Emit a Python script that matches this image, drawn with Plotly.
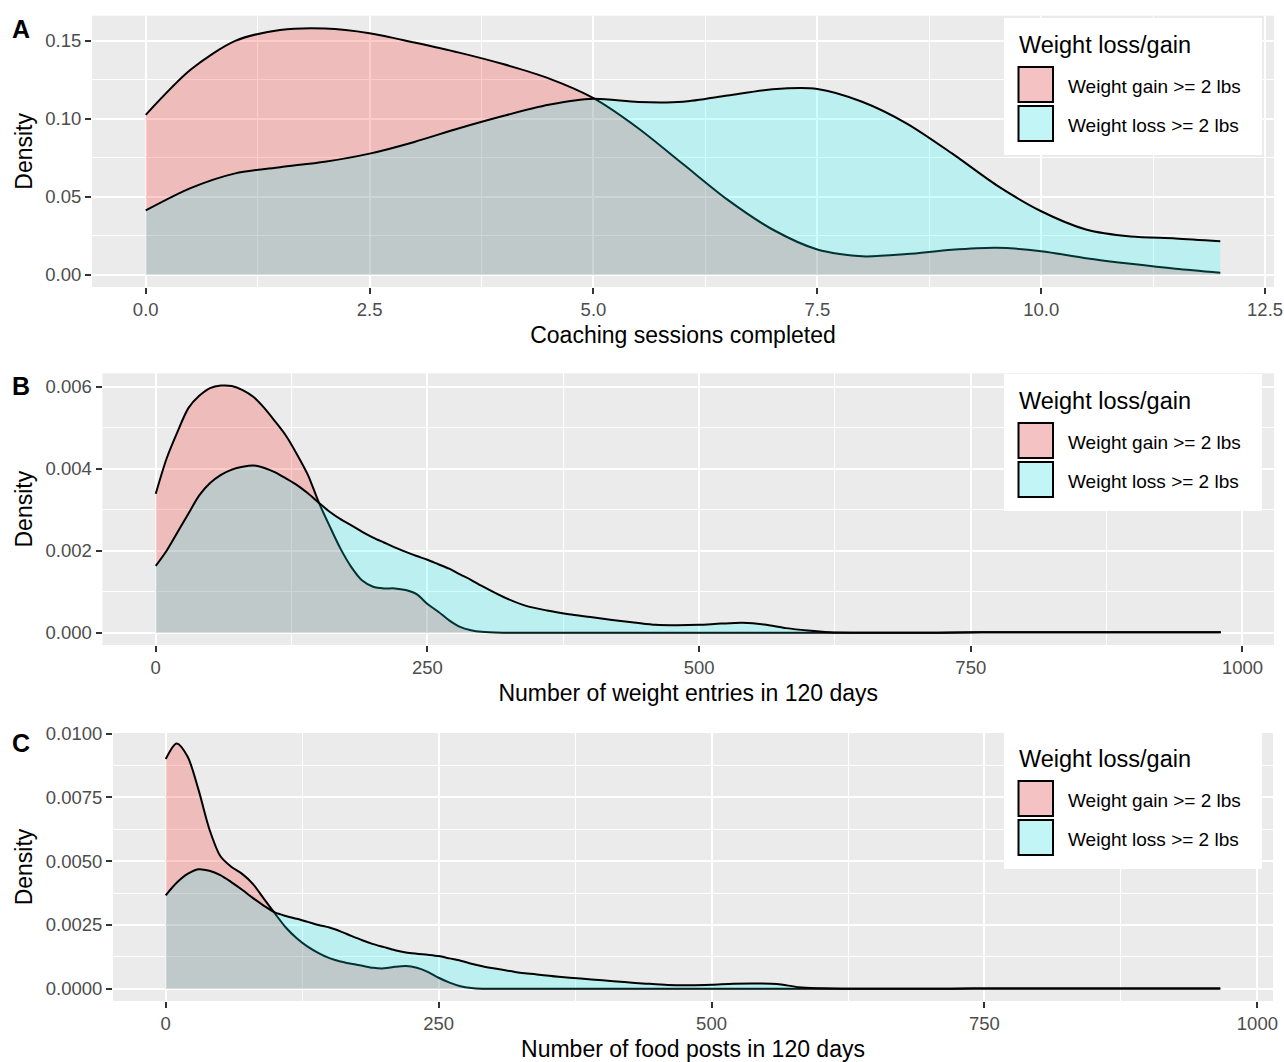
import plotly.graph_objects as go

# ---------------- data ----------------
A_x = [0, 0.5, 1, 1.5, 2, 2.5, 3, 3.5, 4, 4.5, 5, 5.5, 6, 6.5, 7, 7.5, 8, 8.5, 9, 9.5,
       10, 10.5, 11, 11.5, 12]
A_gain = [0.1026, 0.1315, 0.150, 0.157, 0.158, 0.155, 0.149, 0.1425, 0.135, 0.126,
          0.1133, 0.094, 0.071, 0.048, 0.029, 0.0162, 0.0118, 0.0132, 0.0160, 0.0173,
          0.0151, 0.0106, 0.0070, 0.0038, 0.0013]
A_loss = [0.0412, 0.0555, 0.065, 0.069, 0.0725, 0.0777, 0.0852, 0.094, 0.102, 0.109,
          0.1129, 0.1108, 0.1110, 0.115, 0.119, 0.1192, 0.111, 0.097, 0.078, 0.0575,
          0.0407, 0.029, 0.0245, 0.0233, 0.0215]

B_x = list(range(0, 301, 10)) + list(range(320, 641, 20)) + [680, 720, 760, 800, 850, 900, 950, 980]
B_gain = [0.00339, 0.00425, 0.0049, 0.00548, 0.00578, 0.00597, 0.00603, 0.00602, 0.00592, 0.00575,
          0.00548, 0.00515, 0.0048, 0.00435, 0.00385, 0.00318, 0.0026, 0.00205, 0.0016, 0.00127,
          0.00112, 0.00108, 0.00108, 0.00104, 0.00094, 0.0007, 0.00051, 0.0003, 0.00014, 0.00006,
          0.00002,
          0, 0, 0, 0, 0, 0, 0, 0, 0, 0, 0, 0, 0, 0, 0, 0, 0,
          0, 0, 0.00001, 0.00001, 0.00001, 0.00001, 0.00001, 0.00001]
B_loss = [0.00163, 0.0020, 0.00245, 0.0029, 0.00335, 0.00365, 0.00385, 0.00398, 0.00405, 0.00408,
          0.00402, 0.00391, 0.00376, 0.0036, 0.0034, 0.00317, 0.00295, 0.00277, 0.00262, 0.00246,
          0.00232, 0.0022, 0.00208, 0.00197, 0.00187, 0.00178, 0.00167, 0.00156, 0.00142, 0.00129,
          0.00114,
          0.00087, 0.00066, 0.00054, 0.00045, 0.00038, 0.00031, 0.00025, 0.00019, 0.00018, 0.00019,
          0.00022, 0.00024, 0.0002, 0.00011, 0.00005, 0.00001, 0.0,
          0, 0, 0.00001, 0.00001, 0.00001, 0.00001, 0.00001, 0.00001]

C_x = list(range(0, 301, 10)) + list(range(320, 641, 20)) + [680, 720, 760, 800, 850, 900, 950, 966]
C_gain = [0.009, 0.00961, 0.0091, 0.0078, 0.00625, 0.0052, 0.00478, 0.0045, 0.0041, 0.00352,
          0.00295, 0.0024, 0.00198, 0.00165, 0.0014, 0.0012, 0.00107, 0.00098, 0.0009, 0.00082,
          0.0008, 0.00086, 0.00089, 0.00082, 0.00066, 0.00043, 0.00024, 0.0001, 0.00003, 0, 0,
          0, 0, 0, 0, 0, 0, 0, 0, 0, 0, 0, 0, 0, 0, 0, 0, 0,
          0, 0, 0.00001, 0.00001, 0.00001, 0.00001, 0.00001, 0.00001]
C_loss = [0.00366, 0.00415, 0.0045, 0.00468, 0.00462, 0.00445, 0.00418, 0.00388, 0.00355, 0.00325,
          0.00299, 0.00285, 0.00274, 0.00262, 0.0025, 0.0024, 0.00225, 0.00207, 0.0019, 0.00175,
          0.00163, 0.00151, 0.00142, 0.00137, 0.00133, 0.00128, 0.00119, 0.0011, 0.00098, 0.00088,
          0.0008,
          0.00066, 0.00056, 0.00047, 0.0004, 0.00033, 0.00026, 0.0002, 0.00015, 0.00014, 0.00016,
          0.0002, 0.00021, 0.00019, 0.00006, 0.00002, 0.0, 0.0,
          0, 0, 0.00001, 0.00001, 0.00001, 0.00001, 0.00001, 0.00001]

GROUPS = ["Weight gain >= 2 lbs", "Weight loss >= 2 lbs"]
LEGEND_TITLE = "Weight loss/gain"
X_TITLES = ["Coaching sessions completed", "Number of weight entries in 120 days",
            "Number of food posts in 120 days"]
Y_TITLE = "Density"
PANEL_LETTERS = ["A", "B", "C"]

A_xticks = [0, 2.5, 5, 7.5, 10, 12.5]
A_xticktext = ["0.0", "2.5", "5.0", "7.5", "10.0", "12.5"]
A_yticks = [0, 0.05, 0.10, 0.15]
A_yticktext = ["0.00", "0.05", "0.10", "0.15"]
B_xticks = [0, 250, 500, 750, 1000]
B_yticks = [0, 0.002, 0.004, 0.006]
B_yticktext = ["0.000", "0.002", "0.004", "0.006"]
C_xticks = [0, 250, 500, 750, 1000]
C_yticks = [0, 0.0025, 0.005, 0.0075, 0.01]
C_yticktext = ["0.0000", "0.0025", "0.0050", "0.0075", "0.0100"]

# ---------------- styling / layout ----------------
OFF = 0  # page body margin is removed by the post_script below
W, H = 1284, 1062
FONT = "Liberation Sans, Arial, sans-serif"
FILLS = ["rgba(255,0,0,0.2)", "rgba(0,255,255,0.2)"]
KEY_FILLS = ["#F4C2C2", "#C2F5F5"]


def px(x):
    return (x - OFF) / W


def py(y):
    return 1 - (y - OFF) / H


# panel pixel boxes (page pixels): (left, right, top, bottom)
boxes = [(92, 1274, 15.7, 287), (102.5, 1274, 373.3, 645), (113, 1273, 733, 1001)]
xranges = [[-0.6, 12.6], [-49, 1029], [-48.3, 1014.3]]
yranges = [[-0.0079, 0.1662], [-0.000302, 0.00633], [-0.00048, 0.01002]]
xminor = [1.25, 125, 125]
yminor = [0.025, 0.001, 0.00125]
xticks = [(A_xticks, A_xticktext), (B_xticks, [str(v) for v in B_xticks]),
          (C_xticks, [str(v) for v in C_xticks])]
yticks = [(A_yticks, A_yticktext), (B_yticks, B_yticktext), (C_yticks, C_yticktext)]
series = [(A_x, A_gain, A_loss), (B_x, B_gain, B_loss), (C_x, C_gain, C_loss)]
letter_y = [29, 386, 743]
legend_title_y = [45, 401, 759]

fig = go.Figure()
layout = dict(
    width=W, height=H, margin=dict(l=0, r=0, t=0, b=0),
    paper_bgcolor="white", plot_bgcolor="#EBEBEB",
    font=dict(family=FONT, color="black"),
    showlegend=False, template="none",
)
shapes = []
annotations = []

for i in range(3):
    xs, gain, loss = series[i]
    suffix = "" if i == 0 else str(i + 1)
    for k, ys in enumerate([gain, loss]):
        fig.add_trace(go.Scatter(
            x=xs, y=ys, mode="lines", fill="tozeroy", fillcolor=FILLS[k],
            line=dict(color="black", width=2, shape="spline", smoothing=0.8),
            name=GROUPS[k], xaxis="x" + suffix, yaxis="y" + suffix,
            hoverinfo="skip"))
    l, r, t, b = boxes[i]
    layout["xaxis" + suffix] = dict(
        domain=[px(l), px(r)], anchor="y" + suffix, range=xranges[i],
        tickmode="array", tickvals=xticks[i][0], ticktext=xticks[i][1],
        ticks="outside", ticklen=6, tickwidth=2, tickcolor="#333333",
        tickfont=dict(size=18.5, color="#4D4D4D", family=FONT),
        showgrid=True, gridcolor="white", gridwidth=2, zeroline=False, showline=False,
        minor=dict(dtick=xminor[i], tick0=0, showgrid=True, gridcolor="white", gridwidth=1),
        title=dict(text=X_TITLES[i], font=dict(size=23, color="black", family=FONT), standoff=7),
        automargin=False, ticklabeloverflow="allow",
    )
    layout["yaxis" + suffix] = dict(
        domain=[py(b), py(t)], anchor="x" + suffix, range=yranges[i],
        tickmode="array", tickvals=yticks[i][0], ticktext=yticks[i][1],
        ticks="outside", ticklen=6, tickwidth=2, tickcolor="#333333",
        tickfont=dict(size=18.5, color="#4D4D4D", family=FONT),
        showgrid=True, gridcolor="white", gridwidth=2, zeroline=False, showline=False,
        minor=dict(dtick=yminor[i], tick0=0, showgrid=True, gridcolor="white", gridwidth=1),
        title=dict(text=Y_TITLE, font=dict(size=23, color="black", family=FONT), standoff=6),
        automargin=False,
    )
    # panel letter
    annotations.append(dict(text="<b>%s</b>" % PANEL_LETTERS[i], x=px(10), y=py(letter_y[i]),
                            xref="paper", yref="paper", xanchor="left", yanchor="middle",
                            showarrow=False, font=dict(size=25, color="black", family=FONT)))
    # legend
    ty = legend_title_y[i]
    shapes.append(dict(type="rect", xref="paper", yref="paper", x0=px(1004), x1=px(1262),
                       y0=py(ty - 27), y1=py(ty + 110), fillcolor="white", line=dict(width=0),
                       layer="above"))
    annotations.append(dict(text=LEGEND_TITLE, x=px(1017), y=py(ty), xref="paper", yref="paper",
                            xanchor="left", yanchor="middle", showarrow=False,
                            font=dict(size=23.5, color="black", family=FONT)))
    for k in range(2):
        k0 = ty + 22 + 39 * k
        shapes.append(dict(type="rect", xref="paper", yref="paper", x0=px(1018.5), x1=px(1053),
                           y0=py(k0), y1=py(k0 + 35), fillcolor=KEY_FILLS[k],
                           line=dict(color="black", width=2), layer="above"))
        annotations.append(dict(text=GROUPS[k], x=px(1066), y=py(k0 + 19.5), xref="paper",
                                yref="paper", xanchor="left", yanchor="middle", showarrow=False,
                                font=dict(size=19, color="black", family=FONT)))

layout["shapes"] = shapes
layout["annotations"] = annotations
fig.update_layout(**layout)
fig.write_html(
    "out.html",
    config={"displayModeBar": False},
    post_script="document.body.style.margin='0';document.body.style.overflow='hidden';",
)
